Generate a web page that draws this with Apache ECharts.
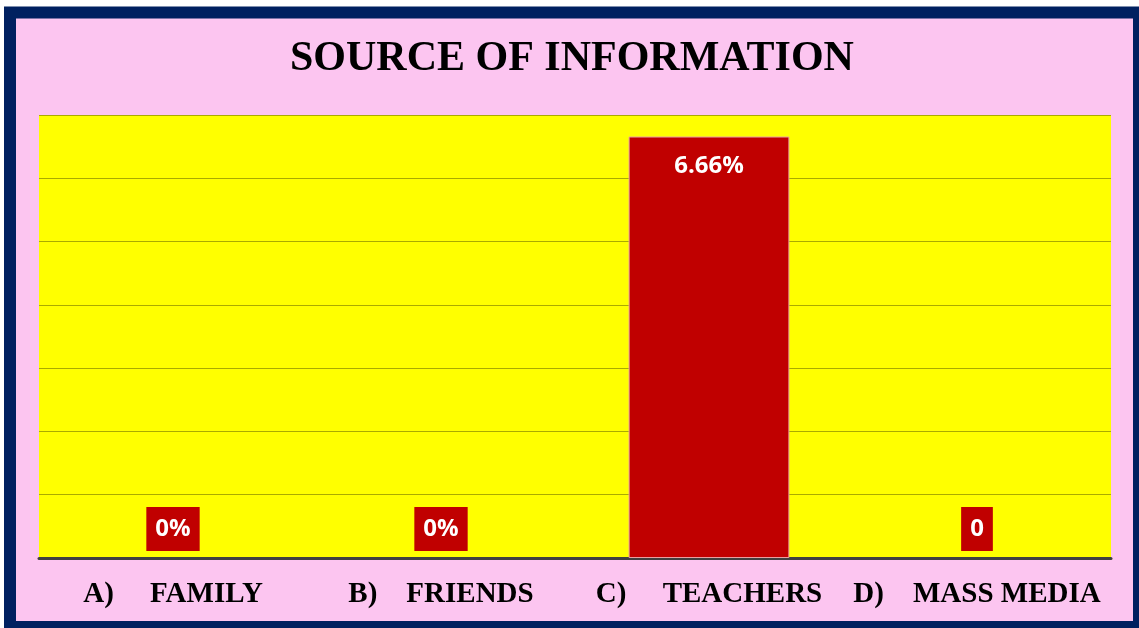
<!DOCTYPE html>
<html>
<head>
<meta charset="utf-8">
<script src="https://cdn.jsdelivr.net/npm/echarts@6/dist/echarts.min.js"></script>
<style>
html,body{margin:0;padding:0;background:#ffffff;}
#chart{width:1139px;height:628px;}
</style>
</head>
<body>
<div id="chart"></div>
<script>
var categories = ['A)     FAMILY', 'B)    FRIENDS', 'C)     TEACHERS', 'D)    MASS MEDIA'];
var values = [0, 0, 6.66, 0];
var valueLabels = ['0%', '0%', '6.66%', '0'];
var titleText = 'SOURCE OF INFORMATION';

var barColor = '#c00000';
var data = values.map(function (v, i) {
  var inside = v > 1;
  return {
    value: v,
    itemStyle: {borderWidth: v > 0 ? 1 : 0},
    label: inside ? {
      position: 'insideTop', distance: 16, formatter: valueLabels[i]
    } : {
      position: 'top', distance: 7, formatter: valueLabels[i],
      backgroundColor: barColor, padding: [8, 9, 8, 9]
    }
  };
});

var chart = echarts.init(document.getElementById('chart'), null, {renderer: 'canvas'});
chart.setOption({
  backgroundColor: '#ffffff',
  animation: false,
  graphic: [{
    type: 'rect', z: -100,
    shape: {x: 10, y: 12.5, width: 1129, height: 614.5},
    style: {fill: '#fcc5f0', stroke: '#002060', lineWidth: 12}
  }],
  title: {
    text: titleText,
    left: 290,
    top: 38,
    padding: 0,
    textStyle: {fontFamily: 'Liberation Serif', fontWeight: 'bold', fontSize: 42, color: '#000000'}
  },
  grid: {
    left: 39, right: 28, top: 115, bottom: 70,
    show: true, backgroundColor: '#ffff00', borderWidth: 0
  },
  xAxis: {
    type: 'category',
    data: categories,
    axisLine: {show: true, lineStyle: {color: '#404040', width: 3}},
    axisTick: {show: false},
    axisLabel: {
      margin: 22, interval: 0,
      fontFamily: 'Liberation Serif', fontWeight: 'bold', fontSize: 29, color: '#000000'
    }
  },
  yAxis: {
    type: 'value', min: 0, max: 7, interval: 1,
    axisLabel: {show: false},
    axisLine: {show: false},
    axisTick: {show: false},
    splitLine: {lineStyle: {color: '#aaaa00', width: 1}}
  },
  series: [{
    type: 'bar',
    data: data,
    barWidth: '60%',
    itemStyle: {color: barColor, borderColor: '#e8a0a0', borderWidth: 1},
    label: {
      show: true, color: '#ffffff', fontFamily: 'Open Sans', fontWeight: 'bold', fontSize: 24, lineHeight: 28
    }
  }]
});
</script>
</body>
</html>
